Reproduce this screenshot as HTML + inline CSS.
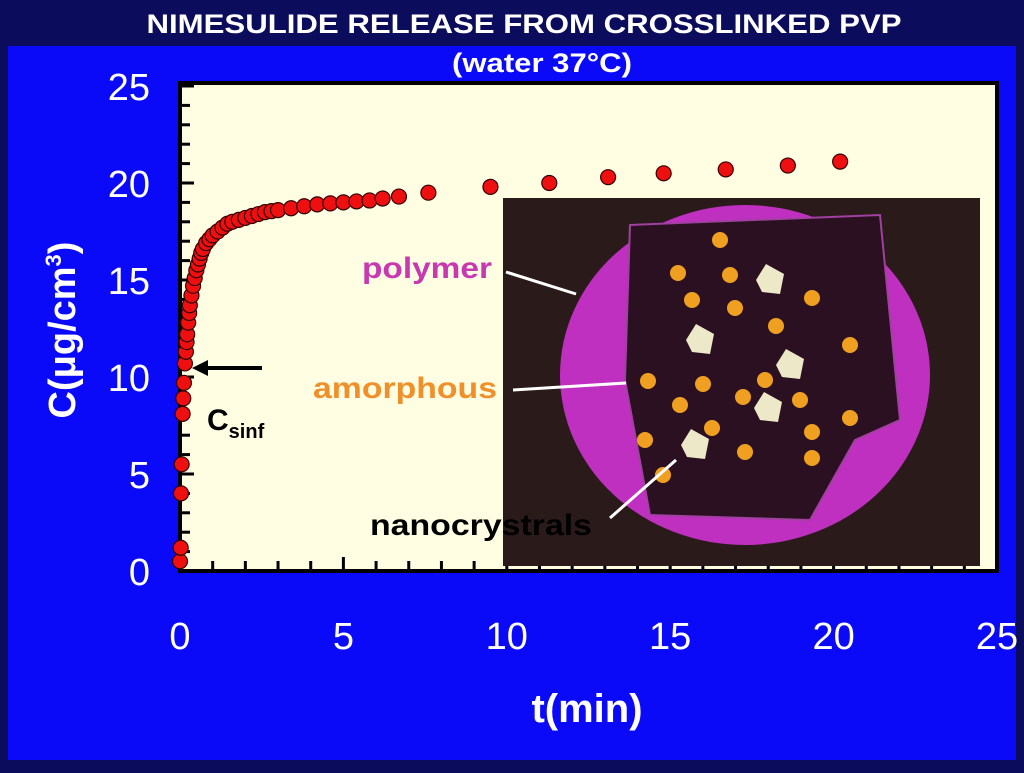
<!DOCTYPE html>
<html><head><meta charset="utf-8"><style>
body{margin:0;width:1024px;height:768px;overflow:hidden;background:#0c0c5c;font-family:"Liberation Sans",sans-serif}
</style></head><body>
<svg id="c" width="1024" height="768" xmlns="http://www.w3.org/2000/svg">
<rect x="0" y="0" width="1024" height="768" fill="#0c0c5c"/>
<rect x="8" y="46" width="1008" height="714" fill="#0a0af8"/>
<text x="524" y="33" text-anchor="middle" fill="#fff" font-size="27" font-weight="bold" textLength="755" lengthAdjust="spacingAndGlyphs">NIMESULIDE RELEASE FROM CROSSLINKED PVP</text>
<text x="542" y="72" text-anchor="middle" fill="#fff" font-size="27" font-weight="bold" textLength="180" lengthAdjust="spacingAndGlyphs">(water 37°C)</text>
<rect x="180" y="83" width="817" height="488" fill="#fffde2" stroke="#000" stroke-width="4"/>
<g id="ticks"></g>
<g id="inset">
<rect x="503" y="198" width="477" height="368" fill="#2a1a1a"/>
<ellipse cx="745" cy="375" rx="185" ry="170" fill="#c030c0"/>
<path d="M630 225 L880 215 L900 420 L855 440 L810 520 L650 515 L625 380 Z" fill="#2a1020" stroke="#a040a0" stroke-width="2"/>
</g>
<g id="dots"></g>
<g id="ylabels" fill="#fff" font-size="38" text-anchor="end"></g>
<g id="xlabels" fill="#fff" font-size="38" text-anchor="middle"></g>
<text x="587" y="722" fill="#fff" font-size="40" font-weight="bold" text-anchor="middle">t(min)</text>
<text transform="translate(75,330) rotate(-90)" fill="#fff" font-size="38" font-weight="bold" text-anchor="middle">C(μg/cm<tspan dy="-14" font-size="22">3</tspan><tspan dy="14">)</tspan></text>
<line x1="262" y1="368" x2="205" y2="368" stroke="#000" stroke-width="4"/>
<polygon points="192,368 208,360 208,376" fill="#000"/>
<text x="207" y="430" font-size="30" font-weight="bold" fill="#000">C<tspan font-size="20" dy="8">sinf</tspan></text>
<text x="362" y="278" font-size="30" font-weight="bold" fill="#c838b0" textLength="130" lengthAdjust="spacingAndGlyphs">polymer</text>
<line x1="506" y1="272" x2="576" y2="294" stroke="#fff" stroke-width="3"/>
<text x="313" y="398" font-size="30" font-weight="bold" fill="#f0902a" textLength="184" lengthAdjust="spacingAndGlyphs">amorphous</text>
<line x1="513" y1="390" x2="626" y2="383" stroke="#fff" stroke-width="3"/>
<text x="370" y="535" font-size="30" font-weight="bold" fill="#000" textLength="222" lengthAdjust="spacingAndGlyphs">nanocrystrals</text>
<line x1="610" y1="518" x2="676" y2="460" stroke="#fff" stroke-width="3"/>
</svg>
<script>
const tValues=[0,0.02,0.03,0.05,0.08,0.1,0.12,0.15,0.18,0.2,0.22,0.25,0.28,0.3,0.35,0.4,0.45,0.5,0.55,0.6,0.65,0.7,0.8,0.9,1.0,1.15,1.3,1.45,1.6,1.8,2.0,2.2,2.4,2.6,2.8,3.0,3.4,3.8,4.2,4.6,5.0,5.4,5.8,6.2,6.7,7.6,9.5,11.3,13.1,14.8,16.7,18.6,20.2];
const cValues=[0.5,1.2,4.0,5.5,8.1,8.9,9.7,10.7,11.3,11.8,12.2,12.8,13.3,13.7,14.2,14.7,15.1,15.5,15.8,16.1,16.4,16.6,16.9,17.1,17.3,17.5,17.7,17.9,18.0,18.1,18.2,18.3,18.4,18.5,18.55,18.6,18.7,18.8,18.9,18.95,19.0,19.05,19.1,19.2,19.3,19.5,19.8,20.0,20.3,20.5,20.7,20.9,21.1];
const xTickLabels=["0","5","10","15","20","25"];
const yTickLabels=["0","5","10","15","20","25"];
const NS="http://www.w3.org/2000/svg";
const X=t=>180+t*32.68, Y=c=>571-c*19.4;
function mk(tag,a,p){const e=document.createElementNS(NS,tag);for(const k in a)e.setAttribute(k,a[k]);p.appendChild(e);return e;}
const tk=document.getElementById('ticks');
for(let i=0;i<=25;i++){
 const l=mk('line',{x1:X(i),x2:X(i),y1:571,y2:i%5==0?557:561,stroke:'#000','stroke-width':3},tk);
 
 
 const m=mk('line',{x1:180,x2:i%5==0?194:190,y1:Y(i),y2:Y(i),stroke:'#000','stroke-width':3},tk);
 
 
}
const inset=document.getElementById('inset');
const orange=[[720,240],[678,273],[730,275],[692,300],[735,308],[812,298],[776,326],[850,345],[765,380],[648,381],[703,384],[743,397],[800,400],[680,405],[850,418],[712,428],[812,432],[645,440],[745,452],[812,458],[663,475]];
orange.forEach(p=>{const e=mk('circle',{cx:p[0],cy:p[1],r:8,fill:'#f0a020'},inset);
 
 });
const cr=[[770,280],[700,340],[790,365],[768,408],[695,445]];
cr.forEach(p=>{const e=mk('polygon',{points:`${p[0]-14},${p[1]} ${p[0]-4},${p[1]-16} ${p[0]+14},${p[1]-6} ${p[0]+10},${p[1]+14} ${p[0]-8},${p[1]+12}`,fill:'#ece8c8'},inset);
 
 });
const dots=document.getElementById('dots');
tValues.forEach((t,i)=>{const e=mk('circle',{cx:X(t),cy:Y(cValues[i]),r:7.5,fill:'#ee1010',stroke:'#300','stroke-width':1.2},dots);
 
 });
const yl=document.getElementById('ylabels'),xl=document.getElementById('xlabels');
yTickLabels.forEach((s,i)=>{const e=mk('text',{x:150,y:Y(i*5)+14},yl);e.textContent=s;
 
 });
xTickLabels.forEach((s,i)=>{const e=mk('text',{x:X(i*5),y:649},xl);e.textContent=s;
 
 });
</script>
</body></html>
